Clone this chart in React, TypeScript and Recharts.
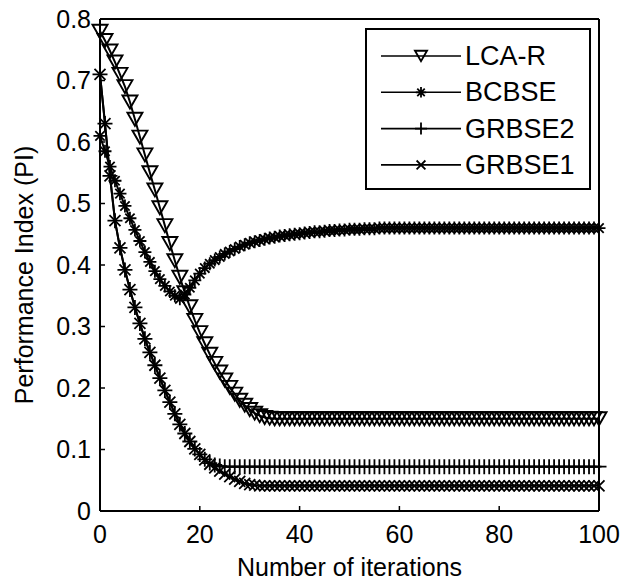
import { LineChart, Line, XAxis, YAxis, Legend } from 'recharts';

const iterations = [
  0, 1, 2, 3, 4, 5, 6, 7, 8, 9,
  10, 11, 12, 13, 14, 15, 16, 17, 18, 19,
  20, 21, 22, 23, 24, 25, 26, 27, 28, 29,
  30, 31, 32, 33, 34, 35, 36, 37, 38, 39,
  40, 41, 42, 43, 44, 45, 46, 47, 48, 49,
  50, 51, 52, 53, 54, 55, 56, 57, 58, 59,
  60, 61, 62, 63, 64, 65, 66, 67, 68, 69,
  70, 71, 72, 73, 74, 75, 76, 77, 78, 79,
  80, 81, 82, 83, 84, 85, 86, 87, 88, 89,
  90, 91, 92, 93, 94, 95, 96, 97, 98, 99,
  100,
];

const lcaR = [
  0.78, 0.765, 0.748, 0.73, 0.71, 0.69, 0.665, 0.637, 0.608, 0.579,
  0.55, 0.522, 0.493, 0.464, 0.435, 0.407, 0.38, 0.355, 0.332, 0.31,
  0.29, 0.272, 0.255, 0.24, 0.226, 0.213, 0.201, 0.19, 0.18, 0.172,
  0.165, 0.159, 0.155, 0.152, 0.151, 0.15, 0.15, 0.15, 0.15, 0.15,
  0.15, 0.15, 0.15, 0.15, 0.15, 0.15, 0.15, 0.15, 0.15, 0.15,
  0.15, 0.15, 0.15, 0.15, 0.15, 0.15, 0.15, 0.15, 0.15, 0.15,
  0.15, 0.15, 0.15, 0.15, 0.15, 0.15, 0.15, 0.15, 0.15, 0.15,
  0.15, 0.15, 0.15, 0.15, 0.15, 0.15, 0.15, 0.15, 0.15, 0.15,
  0.15, 0.15, 0.15, 0.15, 0.15, 0.15, 0.15, 0.15, 0.15, 0.15,
  0.15, 0.15, 0.15, 0.15, 0.15, 0.15, 0.15, 0.15, 0.15, 0.15,
  0.15,
];

const bcbse = [
  0.61, 0.585, 0.56, 0.537, 0.516, 0.496, 0.476, 0.457, 0.439, 0.421,
  0.405, 0.39, 0.377, 0.366, 0.357, 0.35, 0.345, 0.352, 0.363, 0.375,
  0.386, 0.395, 0.402, 0.408, 0.413, 0.418, 0.422, 0.426, 0.43, 0.433,
  0.436, 0.438, 0.44, 0.442, 0.444, 0.445, 0.447, 0.448, 0.449, 0.45,
  0.451, 0.452, 0.453, 0.454, 0.454, 0.455, 0.456, 0.456, 0.457, 0.457,
  0.458, 0.458, 0.458, 0.459, 0.459, 0.459, 0.46, 0.46, 0.46, 0.46,
  0.46, 0.46, 0.46, 0.46, 0.46, 0.46, 0.46, 0.46, 0.46, 0.46,
  0.46, 0.46, 0.46, 0.46, 0.46, 0.46, 0.46, 0.46, 0.46, 0.46,
  0.46, 0.46, 0.46, 0.46, 0.46, 0.46, 0.46, 0.46, 0.46, 0.46,
  0.46, 0.46, 0.46, 0.46, 0.46, 0.46, 0.46, 0.46, 0.46, 0.46,
  0.46,
];

const grbse2 = [
  0.71, 0.63, 0.545, 0.472, 0.428, 0.392, 0.36, 0.331, 0.305, 0.28,
  0.258, 0.237, 0.216, 0.196, 0.177, 0.158, 0.141, 0.126, 0.113, 0.101,
  0.092, 0.084, 0.078, 0.075, 0.073, 0.072, 0.072, 0.072, 0.072, 0.072,
  0.072, 0.072, 0.072, 0.072, 0.072, 0.072, 0.072, 0.072, 0.072, 0.072,
  0.072, 0.072, 0.072, 0.072, 0.072, 0.072, 0.072, 0.072, 0.072, 0.072,
  0.072, 0.072, 0.072, 0.072, 0.072, 0.072, 0.072, 0.072, 0.072, 0.072,
  0.072, 0.072, 0.072, 0.072, 0.072, 0.072, 0.072, 0.072, 0.072, 0.072,
  0.072, 0.072, 0.072, 0.072, 0.072, 0.072, 0.072, 0.072, 0.072, 0.072,
  0.072, 0.072, 0.072, 0.072, 0.072, 0.072, 0.072, 0.072, 0.072, 0.072,
  0.072, 0.072, 0.072, 0.072, 0.072, 0.072, 0.072, 0.072, 0.072, 0.072,
  0.072,
];

const grbse1 = [
  0.71, 0.63, 0.545, 0.472, 0.428, 0.392, 0.36, 0.331, 0.305, 0.28,
  0.258, 0.237, 0.216, 0.196, 0.177, 0.158, 0.141, 0.126, 0.113, 0.101,
  0.092, 0.083, 0.076, 0.07, 0.065, 0.06, 0.056, 0.052, 0.048, 0.045,
  0.043, 0.042, 0.041, 0.041, 0.041, 0.041, 0.041, 0.041, 0.041, 0.041,
  0.041, 0.041, 0.041, 0.041, 0.041, 0.041, 0.041, 0.041, 0.041, 0.041,
  0.041, 0.041, 0.041, 0.041, 0.041, 0.041, 0.041, 0.041, 0.041, 0.041,
  0.041, 0.041, 0.041, 0.041, 0.041, 0.041, 0.041, 0.041, 0.041, 0.041,
  0.041, 0.041, 0.041, 0.041, 0.041, 0.041, 0.041, 0.041, 0.041, 0.041,
  0.041, 0.041, 0.041, 0.041, 0.041, 0.041, 0.041, 0.041, 0.041, 0.041,
  0.041, 0.041, 0.041, 0.041, 0.041, 0.041, 0.041, 0.041, 0.041, 0.041,
  0.041,
];

const xTicks = [0, 20, 40, 60, 80, 100];
const yTicks = [0, 0.1, 0.2, 0.3, 0.4, 0.5, 0.6, 0.7, 0.8];

const data = iterations.map((it, i) => ({
  iter: it,
  lcaR: lcaR[i],
  bcbse: bcbse[i],
  grbse2: grbse2[i],
  grbse1: grbse1[i],
}));

const FONT = '"Liberation Sans", Arial, sans-serif';
const INK = '#000';

type MarkProps = { cx?: number; cy?: number; scale?: number };

// MATLAB style markers, drawn hollow in black
function TriangleDown({ cx = 0, cy = 0, scale = 1 }: MarkProps) {
  const w = 7.5 * scale;
  const h = 6.5 * scale;
  return (
    <path
      d={`M${cx - w},${cy - h}L${cx + w},${cy - h}L${cx},${cy + h}Z`}
      fill="none"
      stroke={INK}
      strokeWidth={1.9}
    />
  );
}

function Asterisk({ cx = 0, cy = 0, scale = 1 }: MarkProps) {
  const r = 6.5 * scale;
  const d = r * 0.72;
  return (
    <path
      d={`M${cx - r},${cy}H${cx + r}M${cx},${cy - r}V${cy + r}M${cx - d},${cy - d}L${cx + d},${cy + d}M${cx - d},${cy + d}L${cx + d},${cy - d}`}
      stroke={INK}
      strokeWidth={1.8}
    />
  );
}

function Plus({ cx = 0, cy = 0, scale = 1 }: MarkProps) {
  const r = 7.5 * scale;
  return (
    <path d={`M${cx - r},${cy}H${cx + r}M${cx},${cy - r}V${cy + r}`} stroke={INK} strokeWidth={1.8} />
  );
}

function Cross({ cx = 0, cy = 0, scale = 1 }: MarkProps) {
  const r = 5.5 * scale;
  return (
    <path
      d={`M${cx - r},${cy - r}L${cx + r},${cy + r}M${cx - r},${cy + r}L${cx + r},${cy - r}`}
      stroke={INK}
      strokeWidth={1.8}
    />
  );
}

const markers: Record<string, (p: MarkProps) => JSX.Element> = {
  lcaR: TriangleDown,
  bcbse: Asterisk,
  grbse2: Plus,
  grbse1: Cross,
};

const series = [
  { key: 'lcaR', name: 'LCA-R' },
  { key: 'bcbse', name: 'BCBSE' },
  { key: 'grbse2', name: 'GRBSE2' },
  { key: 'grbse1', name: 'GRBSE1' },
];

function LegendBox({ payload }: any) {
  const order = series.map((s) => s.key);
  const rows = [...(payload ?? [])].sort(
    (a: any, b: any) => order.indexOf(a.dataKey) - order.indexOf(b.dataKey),
  );
  return (
    <svg width={226} height={162} style={{ display: 'block' }}>
      <rect x={1} y={1} width={224} height={160} fill="#fff" stroke={INK} strokeWidth={2} />
      {rows.map((entry: any, i: number) => {
        const y = 28 + i * 36.3;
        const Mark = markers[entry.dataKey];
        return (
          <g key={entry.value}>
            <line x1={16} x2={96} y1={y} y2={y} stroke={INK} strokeWidth={1.6} />
            {Mark && <Mark cx={56} cy={y} scale={0.8} />}
            <text x={100} y={y} dominantBaseline="central" fontSize={27} fill={INK} fontFamily={FONT}>
              {entry.value}
            </text>
          </g>
        );
      })}
    </svg>
  );
}

const tickStyle = { fontSize: 25, fill: INK, fontFamily: FONT };

export default function App() {
  return (
    <div style={{ position: 'absolute', left: 0, top: 0, fontFamily: FONT, background: '#fff' }}>
      <LineChart width={623} height={581} data={data} margin={{ top: 18, right: 23, bottom: 0, left: 0 }}>
        <XAxis
          dataKey="iter"
          type="number"
          domain={[0, 100]}
          ticks={xTicks}
          interval={0}
          height={70}
          tickSize={-5}
          tickMargin={19}
          tick={tickStyle}
          axisLine={{ stroke: INK, strokeWidth: 2 }}
          tickLine={{ stroke: INK, strokeWidth: 1.5 }}
          label={{
            content: ({ viewBox }: any) => (
              <text
                x={viewBox.x + viewBox.width / 2}
                y={viewBox.y + viewBox.height - 5}
                textAnchor="middle"
                fontSize={25}
                fill={INK}
                fontFamily={FONT}
              >
                Number of iterations
              </text>
            ),
          }}
        />
        <XAxis
          xAxisId="top"
          dataKey="iter"
          type="number"
          orientation="top"
          domain={[0, 100]}
          ticks={xTicks}
          interval={0}
          height={1}
          tickSize={-5}
          tick={false}
          axisLine={{ stroke: INK, strokeWidth: 2 }}
          tickLine={{ stroke: INK, strokeWidth: 1.5 }}
        />
        <YAxis
          type="number"
          domain={[0, 0.8]}
          ticks={yTicks}
          interval={0}
          width={100}
          tickSize={-5}
          tickMargin={14}
          tick={tickStyle}
          axisLine={{ stroke: INK, strokeWidth: 2 }}
          tickLine={{ stroke: INK, strokeWidth: 1.5 }}
          label={{
            content: ({ viewBox }: any) => {
              const x = viewBox.x + 24;
              const y = viewBox.y + viewBox.height / 2 + 10;
              return (
                <text
                  x={x}
                  y={y}
                  transform={`rotate(-90 ${x} ${y})`}
                  textAnchor="middle"
                  dominantBaseline="central"
                  fontSize={25}
                  fill={INK}
                  fontFamily={FONT}
                >
                  Performance Index (PI)
                </text>
              );
            },
          }}
        />
        <YAxis
          yAxisId="right"
          type="number"
          orientation="right"
          domain={[0, 0.8]}
          ticks={yTicks}
          interval={0}
          width={1}
          tickSize={-5}
          tick={false}
          axisLine={{ stroke: INK, strokeWidth: 2 }}
          tickLine={{ stroke: INK, strokeWidth: 1.5 }}
        />
        {series.map((s) => {
          const Mark = markers[s.key];
          return (
            <Line
              key={s.key}
              dataKey={s.key}
              name={s.name}
              type="linear"
              stroke={INK}
              strokeWidth={2}
              isAnimationActive={false}
              dot={(p: any) => <Mark key={`${s.key}-${p.index}`} cx={p.cx} cy={p.cy} />}
              activeDot={false}
            />
          );
        })}
        <Legend
          layout="vertical"
          align="center"
          verticalAlign="middle"
          content={LegendBox}
          wrapperStyle={{ left: 365, top: 28, width: 226, height: 162 }}
        />
      </LineChart>
    </div>
  );
}
